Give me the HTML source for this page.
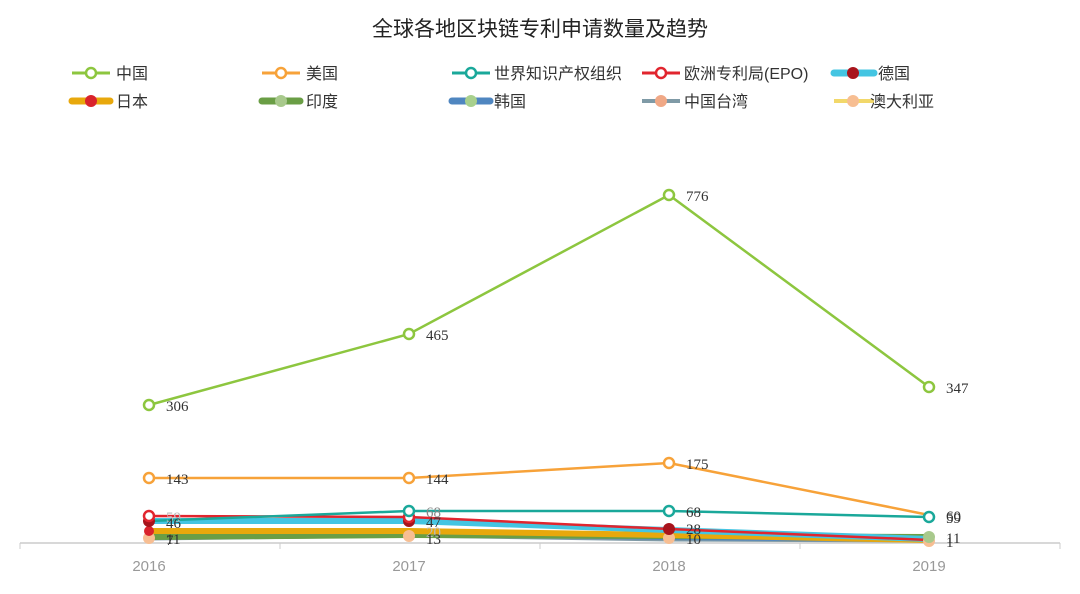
<!DOCTYPE html>
<html><head><meta charset="utf-8"><style>
body{margin:0;background:#fff;}
svg text{font-family:"Liberation Sans","Noto Sans CJK SC",sans-serif;}
svg .lab text{font-family:"Liberation Serif","Noto Serif CJK SC",serif;font-size:15px;}
</style></head><body>
<svg width="1080" height="589" xmlns="http://www.w3.org/2000/svg">
<text x="540" y="36" text-anchor="middle" font-size="21" fill="#222">全球各地区块链专利申请数量及趋势</text>
<g font-size="16" fill="#333">
<line x1="72" y1="73" x2="110" y2="73" stroke="#8dc63f" stroke-width="3"/><circle cx="91" cy="73" r="5" fill="#fff" stroke="#8dc63f" stroke-width="2.5"/><text x="116" y="79">中国</text>
<line x1="262" y1="73" x2="300" y2="73" stroke="#f7a239" stroke-width="3"/><circle cx="281" cy="73" r="5" fill="#fff" stroke="#f7a239" stroke-width="2.5"/><text x="306" y="79">美国</text>
<line x1="452" y1="73" x2="490" y2="73" stroke="#1aa89a" stroke-width="3"/><circle cx="471" cy="73" r="5" fill="#fff" stroke="#1aa89a" stroke-width="2.5"/><text x="494" y="79">世界知识产权组织</text>
<line x1="642" y1="73" x2="680" y2="73" stroke="#e1252e" stroke-width="3"/><circle cx="661" cy="73" r="5" fill="#fff" stroke="#e1252e" stroke-width="2.5"/><text x="684" y="79">欧洲专利局(EPO)</text>
<line x1="834" y1="73" x2="874" y2="73" stroke="#44c5e2" stroke-width="7" stroke-linecap="round"/><circle cx="853" cy="73" r="6" fill="#a8141c"/><text x="878" y="79">德国</text>
<line x1="72" y1="101" x2="110" y2="101" stroke="#e8a80c" stroke-width="7" stroke-linecap="round"/><circle cx="91" cy="101" r="6" fill="#d9232c"/><text x="116" y="107">日本</text>
<line x1="262" y1="101" x2="300" y2="101" stroke="#6a9e45" stroke-width="7" stroke-linecap="round"/><circle cx="281" cy="101" r="6" fill="#a8c98c"/><text x="306" y="107">印度</text>
<line x1="452" y1="101" x2="490" y2="101" stroke="#4f86c0" stroke-width="7" stroke-linecap="round"/><circle cx="471" cy="101" r="6" fill="#a8d08d"/><text x="494" y="107">韩国</text>
<line x1="642" y1="101" x2="680" y2="101" stroke="#7f9aa6" stroke-width="4"/><circle cx="661" cy="101" r="6" fill="#f0a886"/><text x="684" y="107">中国台湾</text>
<line x1="834" y1="101" x2="874" y2="101" stroke="#f2d86a" stroke-width="4"/><circle cx="853" cy="101" r="6" fill="#f7be92"/><text x="870" y="107">澳大利亚</text>
</g>
<line x1="20" y1="543" x2="1060" y2="543" stroke="#ccc" stroke-width="1.5"/>
<g stroke="#ccc"><line x1="20" y1="543" x2="20" y2="549"/><line x1="280" y1="543" x2="280" y2="549"/><line x1="540" y1="543" x2="540" y2="549"/><line x1="800" y1="543" x2="800" y2="549"/><line x1="1060" y1="543" x2="1060" y2="549"/></g>
<g font-size="15" fill="#999" text-anchor="middle">
<text x="149" y="571">2016</text><text x="409" y="571">2017</text><text x="669" y="571">2018</text><text x="929" y="571">2019</text></g>
<polyline points="149,538 409,536 669,538 929,541" fill="none" stroke="#f2d86a" stroke-width="3"/>
<polyline points="149,539 409,536 669,540 929,541" fill="none" stroke="#7f9aa6" stroke-width="3"/>
<polyline points="149,537 409,533 669,537 929,539" fill="none" stroke="#4f86c0" stroke-width="6"/>
<polyline points="149,537 409,535 669,536 929,537" fill="none" stroke="#6a9e45" stroke-width="6"/>
<polyline points="149,531 409,531 669,535 929,540" fill="none" stroke="#e8a80c" stroke-width="6"/>
<polyline points="149,521 409,521 669,530 929,539" fill="none" stroke="#44c5e2" stroke-width="6"/>
<polyline points="149,516 409,517 669,529 929,540" fill="none" stroke="#e1252e" stroke-width="2.5"/>
<polyline points="149,521 409,511 669,511 929,517" fill="none" stroke="#1aa89a" stroke-width="2.5"/>
<polyline points="149,478 409,478 669,463 929,515" fill="none" stroke="#f7a239" stroke-width="2.5"/>
<polyline points="149,405 409,334 669,195 929,387" fill="none" stroke="#8dc63f" stroke-width="2.5"/>
<g>
<circle cx="149" cy="538" r="6" fill="#f7be92"/><circle cx="409" cy="536" r="6" fill="#f7be92"/><circle cx="669" cy="538" r="6" fill="#f7be92"/><circle cx="929" cy="541" r="6" fill="#f7be92"/>
<circle cx="149" cy="531" r="5" fill="#d9232c"/><circle cx="149" cy="521" r="6" fill="#a8141c"/><circle cx="409" cy="521" r="6" fill="#a8141c"/><circle cx="669" cy="529" r="6" fill="#a8141c"/>
<circle cx="929" cy="537" r="6" fill="#a8c98c"/>
</g>
<g fill="#fff" stroke-width="2.5">
<circle cx="149" cy="516" r="5" stroke="#e1252e"/><circle cx="409" cy="517" r="5" stroke="#e1252e"/>
<circle cx="409" cy="511" r="5" stroke="#1aa89a"/><circle cx="669" cy="511" r="5" stroke="#1aa89a"/><circle cx="929" cy="517" r="5" stroke="#1aa89a"/>
<circle cx="149" cy="478" r="5" stroke="#f7a239"/><circle cx="409" cy="478" r="5" stroke="#f7a239"/><circle cx="669" cy="463" r="5" stroke="#f7a239"/>
<circle cx="149" cy="405" r="5" stroke="#8dc63f"/><circle cx="409" cy="334" r="5" stroke="#8dc63f"/><circle cx="669" cy="195" r="5" stroke="#8dc63f"/><circle cx="929" cy="387" r="5" stroke="#8dc63f"/>
</g>
<g class="lab" fill="#333">
<text x="166" y="411">306</text><text x="426" y="340">465</text><text x="686" y="201">776</text><text x="946" y="393">347</text>
<text x="166" y="484">143</text><text x="426" y="484">144</text><text x="686" y="469">175</text>
<text x="946" y="521">60</text><text x="946" y="523">59</text>
<text x="426" y="517" fill="#888">68</text><text x="686" y="517">68</text>
<text x="166" y="522" fill="#bbb">59</text><text x="166" y="528">46</text><text x="426" y="527">47</text>
<text x="686" y="534">28</text><text x="686" y="544">10</text>
<text x="166" y="544">11</text><text x="166" y="545">7</text>
<text x="426" y="537" fill="#bbb">20</text><text x="426" y="544">13</text>
<text x="946" y="543">11</text><text x="946" y="547">1</text>
</g>
</svg>
</body></html>
